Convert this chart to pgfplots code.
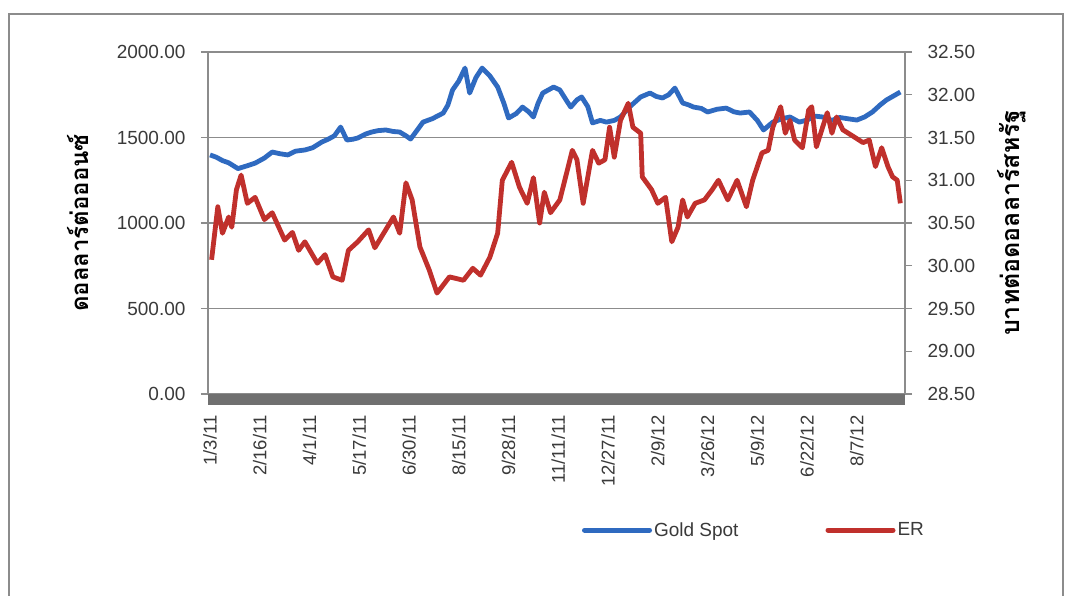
\documentclass[border=0pt]{standalone}
\usepackage{fontspec}
\setmainfont{Liberation Sans}
\newfontfamily\thaifont[Script=Thai]{Loma}
\usepackage{pgfplots}
\pgfplotsset{compat=1.18}
\definecolor{goldblue}{HTML}{2F6AC0}
\definecolor{erred}{HTML}{C0302C}
\definecolor{gridgray}{HTML}{8C8C8C}
\definecolor{bargray}{HTML}{707070}
\definecolor{txtgray}{HTML}{3A3A3A}

\pgfplotstableread{
idx gold
0 1398
4 1385
8 1365
12 1352
18 1318
24 1335
29 1350
35 1380
40 1415
45 1405
50 1398
55 1420
61 1427
66 1440
72 1474
76 1490
80 1510
84 1561
88 1485
92 1490
95 1497
100 1520
104 1532
108 1540
113 1544
118 1535
122 1532
126 1510
129 1491
133 1540
137 1590
143 1610
150 1643
153 1690
156 1778
160 1830
164 1906
167 1760
171 1850
175 1906
180 1860
185 1795
189 1700
192 1614
197 1640
201 1678
205 1650
208 1620
211 1700
214 1760
218 1780
221 1795
225 1778
229 1720
232 1678
236 1720
239 1737
243 1680
246 1585
251 1600
255 1590
260 1600
264 1620
270 1680
277 1737
283 1760
287 1740
291 1731
295 1750
299 1789
304 1702
308 1690
311 1678
316 1670
320 1649
326 1665
332 1672
337 1650
341 1643
347 1649
352 1600
356 1544
362 1590
368 1610
373 1620
379 1590
384 1602
389 1625
394 1620
400 1600
405 1617
410 1610
416 1602
421 1620
426 1649
431 1690
435 1719
440 1745
444 1766
}\golddata

\pgfplotstableread{
idx er
1 30.07
5 30.69
8 30.38
12 30.57
14 30.45
17 30.89
20 31.06
24 30.73
29 30.80
35 30.54
40 30.62
48 30.30
53 30.39
57 30.18
61 30.28
69 30.03
74 30.13
79 29.87
85 29.83
89 30.18
95 30.28
102 30.42
106 30.21
113 30.42
118 30.57
122 30.38
126 30.97
130 30.77
135 30.22
141 29.95
146 29.68
154 29.87
163 29.83
169 29.97
174 29.89
180 30.10
185 30.38
188 31.00
194 31.21
199 30.92
204 30.73
208 31.03
212 30.50
215 30.86
219 30.62
225 30.77
233 31.35
236 31.24
240 30.73
246 31.35
250 31.20
254 31.24
257 31.62
260 31.27
264 31.70
269 31.90
272 31.62
277 31.55
278 31.04
284 30.89
288 30.73
293 30.80
297 30.28
301 30.45
304 30.77
307 30.57
312 30.73
318 30.77
323 30.89
327 31.00
333 30.77
339 31.00
345 30.69
349 31.00
355 31.32
359 31.35
362 31.62
367 31.86
370 31.55
373 31.70
376 31.47
381 31.38
385 31.82
387 31.86
390 31.39
394 31.62
397 31.79
400 31.55
403 31.74
407 31.59
414 31.51
420 31.44
424 31.47
428 31.16
432 31.38
436 31.16
439 31.04
442 31.00
444 30.73
}\erdata

\begin{document}
\begin{tikzpicture}[x=1pt,y=1pt]
\useasboundingbox (0,0) rectangle (1070,596);
\draw[gridgray,line width=1.5pt] (9,0) -- (9,582) -- (1063,582) -- (1063,0);

\begin{axis}[
  at={(208pt,202pt)}, anchor=south west,
  scale only axis, width=697pt, height=342pt,
  xmin=-1.3, xmax=447, ymin=0, ymax=2000,
  clip=false,
  axis x line=bottom, axis y line=left,
  axis line style={-, gridgray, line width=1.2pt},
  xtick={0,32,64,96,128,160,192,224,256,288,320,352,384,416},
  xticklabels={1/3/11,2/16/11,4/1/11,5/17/11,6/30/11,8/15/11,9/28/11,11/11/11,12/27/11,2/9/12,3/26/12,5/9/12,6/22/12,8/7/12},
  xtick style={draw=none},
  xticklabel style={rotate=90, anchor=east, font=\fontsize{18.5}{20}\selectfont, text=txtgray},
  xticklabel shift=11pt,
  ytick={0,500,1000,1500,2000},
  ymajorgrids, grid style={gridgray, line width=1.2pt},
  tick align=outside, major tick length=7pt,
  ytick style={gridgray, line width=1.2pt},
  yticklabel style={font=\fontsize{19}{21}\selectfont, text=txtgray,
    /pgf/number format/.cd, fixed, fixed zerofill, precision=2, 1000 sep={}, assume math mode=true},
  yticklabel shift=12pt,
  ylabel={\thaifont\bfseries ดอลลาร์ต่อออนซ์},
  ylabel style={at={(axis description cs:-0.187,0.5)}, anchor=center, font=\fontsize{24}{26}\selectfont},
  legend columns=2,
  legend style={at={(0.532,-0.398)}, anchor=west, draw=none, fill=none,
    font=\fontsize{19}{21}\selectfont, text=txtgray,
    /tikz/every even column/.append style={column sep=85pt}},
  legend image code/.code={\draw[#1, line width=5pt, line cap=round] (0pt,0pt) -- (65pt,0pt);},
]
\fill[bargray] (axis cs:-1.3,0) rectangle (axis cs:447,-62);
\addplot[goldblue, line width=4.8pt, line join=round] table[x=idx,y=gold] {\golddata};
\addlegendentry{Gold Spot}
\addlegendimage{erred}
\addlegendentry{ER}
\end{axis}

\begin{axis}[
  at={(208pt,202pt)}, anchor=south west,
  scale only axis, width=697pt, height=342pt,
  xmin=-1.3, xmax=447, ymin=28.5, ymax=32.5,
  axis x line=none, axis y line=right,
  axis line style={-, gridgray, line width=1.2pt},
  ytick={28.5,29,29.5,30,30.5,31,31.5,32,32.5},
  tick align=outside, major tick length=7pt,
  ytick style={gridgray, line width=1.2pt},
  yticklabel style={font=\fontsize{19}{21}\selectfont, text=txtgray,
    /pgf/number format/.cd, fixed, fixed zerofill, precision=2, assume math mode=true},
  yticklabel shift=12pt,
  ylabel={\thaifont\bfseries บาทต่อดอลลาร์สหรัฐ},
  ylabel style={at={(axis description cs:1.153,0.5)}, anchor=center, rotate=0, font=\fontsize{25}{27}\selectfont},
]
\addplot[erred, line width=4.8pt, line join=round] table[x=idx,y=er] {\erdata};
\end{axis}
\end{tikzpicture}
\end{document}
